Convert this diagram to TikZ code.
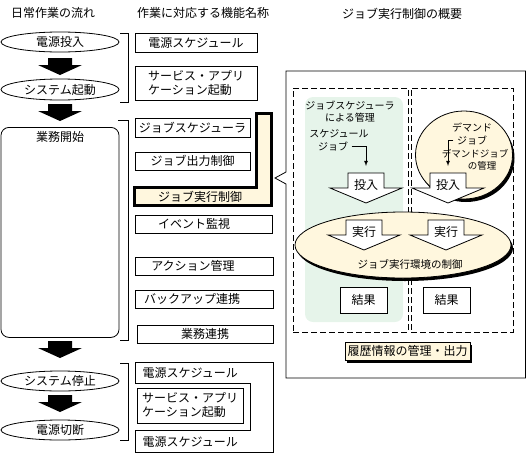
\documentclass[tikz,border=0pt]{standalone}
\usepackage{fontspec}
\setmainfont{Noto Sans CJK JP}
\usepackage{tikz}
\usetikzlibrary{arrows,calc,positioning,shapes.geometric,shadows}
\definecolor{cream}{HTML}{FFF7DE}
\definecolor{mint}{HTML}{E6F4EA}

\begin{document}
\begin{tikzpicture}[x=1pt,y=-1pt,line width=0.8pt,
    font=\fontsize{12pt}{14pt}\selectfont,
    small/.style={font=\fontsize{10pt}{12pt}\selectfont},
    tiny/.style={font=\fontsize{9.5pt}{11pt}\selectfont},
    flow/.style={draw,ellipse,minimum width=118pt,minimum height=20pt,inner sep=0pt},
    func/.style={draw,minimum height=18pt,inner sep=0pt},
    zone/.style={draw,dash pattern=on 6pt off 3pt,inner sep=0pt},
    dropsh/.style={drop shadow={shadow xshift=2pt,shadow yshift=-3pt,fill=black,opacity=1}},
    pics/bigdown/.style={code={
      \fill (-12,0) -- (12,0) -- (12,7) -- (22,7) -- (0,17) -- (-22,7) -- (-12,7) -- cycle ;
    }},
    pics/feed/.style={code={
      \draw [fill=white] (-18,0) -- (18,0) -- (18,15) -- (36,15) -- (0,30) -- (-36,15) -- (-18,15) -- cycle ;
      \coordinate (-top) at (0,0) ;
      \node (-t) at (0,12) {#1} ;
    }}]
  \useasboundingbox (0,0) rectangle (527,453) ;
%
  \node (ttlflow) at (53,13) {日常作業の流れ} ;
  \node (ttlfunc) at (203,13) {作業に対応する機能名称} ;
  \node (ttlexec) at (402,14) {ジョブ実行制御の概要} ;
%
  \node [flow] (pwon) at (60,42) {電源投入} ;
  \pic at (60,58) {bigdown} ;
  \node [flow,minimum height=21pt] (sysup) at (60,89.5) {システム起動} ;
  \pic at (60,104) {bigdown} ;
  \node [draw,rounded corners=8pt,minimum width=118pt,minimum height=210pt,anchor=north] (work) at (60,127) {} ;
  \node [below=1pt of work.north] (worklbl) {業務開始} ;
  \pic at (60,341) {bigdown} ;
  \node [flow] (sysdn) at (60,381) {システム停止} ;
  \pic at (60,395) {bigdown} ;
  \node [flow] (pwoff) at (60,430) {電源切断} ;
%
  \draw (120,33) -- (128,33) -- (128,102) -- (120,102) ;
  \draw (118,120) -- (128,120) -- (128,340) -- (120,340) ;
  \draw (120,363) -- (128,363) -- (128,440) -- (120,440) ;
%
  \node [func,minimum width=122pt,minimum height=19pt] (pwsch) at (196,42.5) {電源スケジュール} ;
  \node [func,minimum width=122pt,minimum height=34pt,align=left] (svc) at (196,83) {サービス・アプリ\\ケーション起動} ;
  \node [func,minimum width=115pt,minimum height=19pt] (jsch) at (192.5,127.5) {ジョブスケジューラ} ;
  \node [func,minimum width=115pt] (jout) at (192.5,161) {ジョブ出力制御} ;
  \draw [line width=3pt,fill=cream] (134.5,187.5) -- (256.5,187.5) -- (256.5,113.5) -- (271.5,113.5)
    -- (271.5,205.5) -- (134.5,205.5) -- cycle ;
  \node (jexec) at (200,197) {ジョブ実行制御} ;
  \node [func,minimum width=137pt] (evt) at (203.5,224) {} ;
  \node (evtlbl) at (194,224) {イベント監視} ;
  \node [func,minimum width=138pt] (act) at (204,266) {} ;
  \node (actlbl) at (193,266) {アクション管理} ;
  \node [func,minimum width=138pt] (bkup) at (204,299) {} ;
  \node (bkuplbl) at (192,299) {バックアップ連携} ;
  \node [func,minimum width=136pt] (biz) at (205,334) {業務連携} ;
%
  \draw (135,362) -- (273,362) -- (273,452) -- (135,452) -- (135,430) -- (250,430) -- (250,383) -- (135,383) -- cycle ;
  \node [anchor=west] (pwsch2) at (139,372.5) {電源スケジュール} ;
  \node [func,minimum width=106pt,minimum height=35pt,align=left] (svc2) at (190,405.5) {サービス・アプリ\\ケーション起動} ;
  \node [anchor=west] (pwsch3) at (139,442) {電源スケジュール} ;
%
  \draw (286,71) -- (525.5,71) -- (525.5,378) -- (286,378) -- (286,184) -- (275,178) -- (286,172) -- cycle ;
  \node [zone,minimum width=115pt,minimum height=244pt] (zsch) at (350.5,210) {} ;
  \node [zone,minimum width=102pt,minimum height=244pt] (zdem) at (462,210) {} ;
  \node [fill=mint,rounded corners=8pt,minimum width=98pt,minimum height=225pt,inner sep=0pt] (mgr) at (354,209.5) {} ;
%
  \node [small,align=center] (schby) at (350,112) {ジョブスケジューラ\\による管理} ;
  \node [small] (sched) at (339,134) {スケジュール} ;
  \node [small] (sjob) at (333,146) {ジョブ} ;
  \pic (in1) at (366,173) {feed=投入} ;
  \draw [-latex,shorten >=7pt] (sjob.east) -| (in1-top) ;
%
  \node [ellipse,draw,fill=cream,minimum width=97pt,minimum height=88pt,dropsh] (dem) at (464,155) {} ;
  \node [small] (dmd) at (472,128) {デマンド} ;
  \node [small] (djob) at (472,140) {ジョブ} ;
  \node [tiny] (dmgr) at (475,154) {デマンドジョブ} ;
  \node [tiny] (dmgr2) at (482,166) {の管理} ;
  \pic (in2) at (448,173) {feed=投入} ;
  \draw [-latex,shorten >=7pt] (djob.west) -| (in2-top) ;
%
  \node [ellipse,draw,fill=cream,minimum width=216pt,minimum height=66pt,dropsh] (env) at (403,245) {} ;
  \pic (run1) at (364,220) {feed=実行} ;
  \pic (run2) at (446,220) {feed=実行} ;
  \node [font=\fontsize{10.5pt}{12pt}\selectfont] (envlbl) at (410,264) {ジョブ実行環境の制御} ;
%
  \node [func,fill=white,minimum width=47pt,minimum height=26pt] (res1) at (363.5,300) {結果} ;
  \node [func,fill=white,minimum width=47pt,minimum height=26pt] (res2) at (446.5,300) {結果} ;
  \node [func,fill=cream,minimum width=125pt,dropsh] (hist) at (407.5,351) {履歴情報の管理・出力} ;
\end{tikzpicture}
\end{document}
